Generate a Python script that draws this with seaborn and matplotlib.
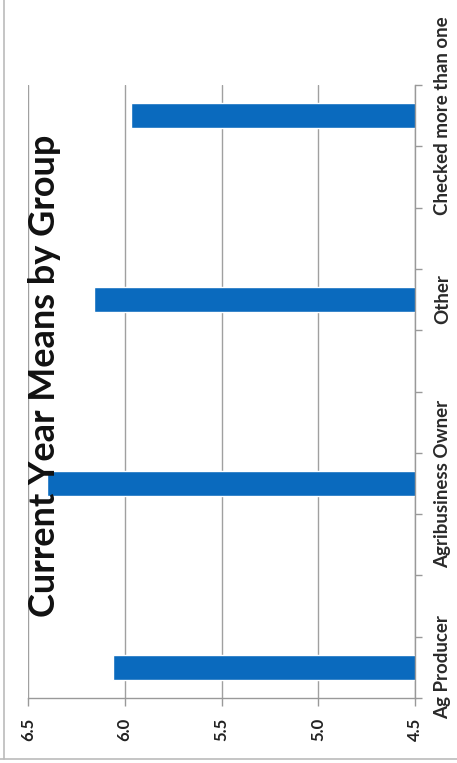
import numpy as np
import pandas as pd
import matplotlib
matplotlib.use("Agg")
import matplotlib.pyplot as plt
from matplotlib.lines import Line2D
import seaborn as sns

# Chart data (scanned chart is rotated 90 degrees)
groups = ["Ag Producer", "Agribusiness Owner", "Other", "Checked more than one"]
means = [6.06, 6.40, 6.16, 5.97]
value_ticks = [6.5, 6.0, 5.5, 5.0, 4.5]
title = "Current Year Means by Group"

# the original category axis has two empty slots between groups
order = ["Checked more than one", "_g1", "_g2", "Other", "_g3", "_g4",
         "Agribusiness Owner", "_g5", "_g6", "Ag Producer"]

sns.set_theme(style="white")
plt.rcParams["font.family"] = ["Lato", "DejaVu Sans"]

df = pd.DataFrame({"group": groups, "mean": means})

fig = plt.figure(figsize=(4.57, 7.63), dpi=100)
ax = fig.add_axes([28 / 457, 65 / 763, 387 / 457, 613 / 763])

sns.barplot(data=df, x="mean", y="group", order=order, orient="h",
            color="#0A6ABE", saturation=1, width=0.41, errorbar=None, ax=ax)

ax.set_xlim(6.5, 4.5)
ax.set_xticks(value_ticks)
ax.set_xticklabels([f"{v:.1f}" for v in value_ticks], rotation=90, fontsize=12,
                   fontweight="bold", color="#222222")
ax.set_xlabel("")
ax.set_ylabel("")

ax.yaxis.tick_right()
ax.set_yticks(range(len(order)))
ax.set_yticklabels([o if not o.startswith("_") else "" for o in order],
                   rotation=90, fontsize=13.5, fontweight="bold", color="#2a2a2a",
                   va="center")
ax.set_yticks(np.arange(-0.5, len(order), 1.0), minor=True)
ax.tick_params(axis="y", which="major", length=0, pad=14)
ax.tick_params(axis="y", which="minor", length=5, color="#999999", width=1, right=True)
ax.tick_params(axis="x", which="major", length=6, color="#999999", width=1, bottom=True, pad=8)

ax.grid(axis="x", color="#a0a0a0", linewidth=1)
ax.set_axisbelow(True)
for side in ["left", "top"]:
    ax.spines[side].set_visible(False)
for side in ["right", "bottom"]:
    ax.spines[side].set_color("#999999")
    ax.spines[side].set_linewidth(1)

fig.text(45 / 457, 1 - 376 / 763, title, rotation=90, fontsize=26,
         fontweight="bold", ha="center", va="center", color="#111111")

# outer chart frame from the scan (left and bottom edges visible)
fig.add_artist(Line2D([4 / 457, 4 / 457], [1 - 759 / 763, 1], color="#bbbbbb", lw=1.2))
fig.add_artist(Line2D([0, 1], [1 - 759 / 763, 1 - 759 / 763], color="#bbbbbb", lw=1.2))

fig.savefig("out.png", dpi=100)
